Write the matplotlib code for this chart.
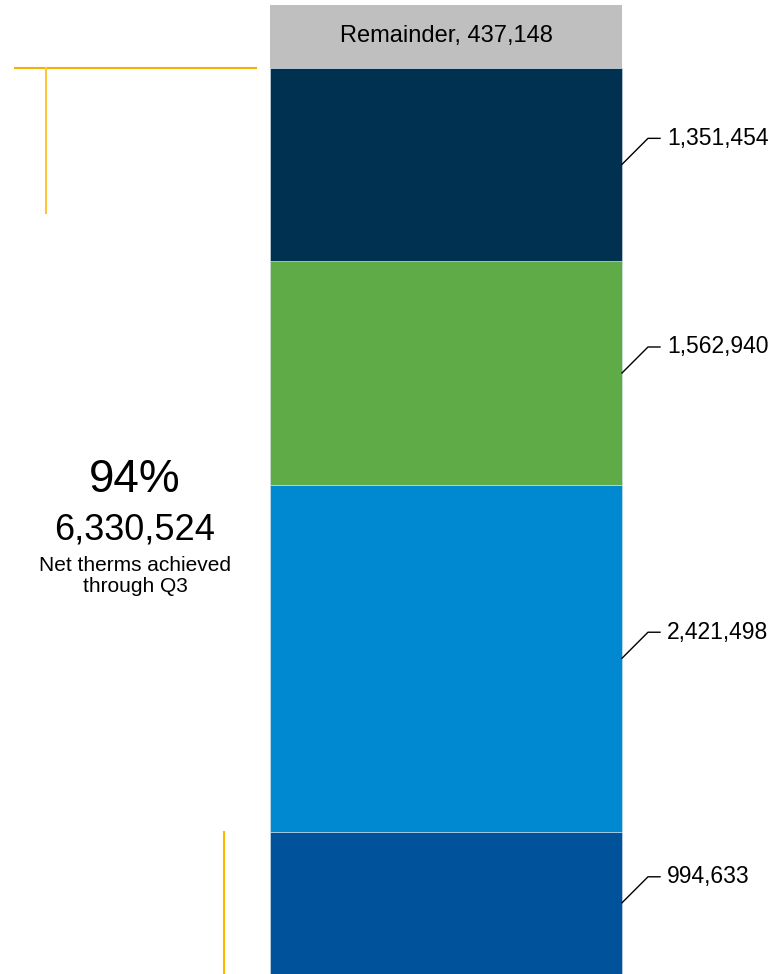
import matplotlib.pyplot as plt

# Datos del gráfico (de abajo hacia arriba)
valores = [994633, 2421498, 1562940, 1351454]
colores = ['#00529B', '#0088D0', '#5EAB47', '#003150']
resto = 437148
logrado = 6330524
porcentaje = '94%'

plt.rcParams['font.family'] = ['Liberation Sans', 'DejaVu Sans']

total = sum(valores) + resto
W, H = 774, 974
top = total * H / 969  # la barra empieza ~5 px bajo el borde superior
px = top / H           # unidades de datos por pixel vertical

fig = plt.figure(figsize=(W / 100, H / 100), dpi=100)
ax = fig.add_axes([0, 0, 1, 1])
ax.set_xlim(0, W)
ax.set_ylim(0, top)
ax.axis('off')

# Barra apilada
x_bar, ancho = 446, 352
base = 0
for v, c in zip(valores, colores):
    ax.bar(x_bar, v, bottom=base, width=ancho, color=c, edgecolor='#d9e2ec', linewidth=0.4)
    mid = base + v / 2
    # línea guía y etiqueta
    x0 = x_bar + ancho / 2
    ax.plot([x0, x0 + 26, x0 + 38], [mid, mid + 26 * px, mid + 26 * px], color='black', lw=1)
    ax.text(x0 + 45, mid + 26 * px, f'{v:,}', fontsize=16.5, va='center', ha='left')
    base += v

ax.bar(x_bar, resto, bottom=base, width=ancho, color='#BFBFBF', edgecolor='none')
ax.text(x_bar, base + resto / 2, f'Remainder, {resto:,}', fontsize=17, ha='center', va='center')

# Líneas amarillas
ax.plot([15, 256], [logrado, logrado], color='#F5B300', lw=1.5)
ax.plot([46, 46], [logrado, logrado - 145 * px], color='#FFC53D', lw=1.5)
ax.plot([224, 224], [valores[0], 0], color='#FFB800', lw=1.5)

# Texto resumen
ax.text(135, top - 480 * px, porcentaje, fontsize=33, ha='center', va='center')
ax.text(135, top - 530 * px, f'{logrado:,}', fontsize=26, ha='center', va='center')
ax.text(135, top - 576 * px, 'Net therms achieved\nthrough Q3', fontsize=15,
        ha='center', va='center', linespacing=1.15)

plt.savefig('out.png', dpi=100)
